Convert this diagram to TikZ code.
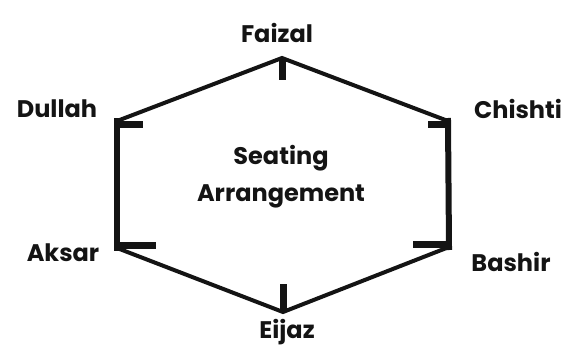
\documentclass[tikz,border=0pt]{standalone}
\usepackage{fontspec}
\setmainfont{Poppins}
\usepackage{tikz}
\usetikzlibrary{positioning,calc}
\definecolor{inkblack}{RGB}{20,20,20}
\tikzset{
  seatname/.style={font=\fontsize{24}{37}\selectfont\bfseries,text=inkblack,inner sep=0pt},
  sideline/.style={draw=inkblack,line width=6pt,line cap=rect},
  slantline/.style={draw=inkblack,line width=4pt,line cap=round},
  seatmark/.style={draw=inkblack,line width=7pt}
}
\begin{document}
\begin{tikzpicture}[x=1pt,y=-1pt]
  \useasboundingbox (0,0) rectangle (570,361);
  % corners of the table
  \coordinate (f) at (282,58);
  \coordinate (c) at (448,121);
  \coordinate (b) at (449,247);
  \coordinate (e) at (283,312);
  \coordinate (a) at (117,248);
  \coordinate (d) at (117,121);
  % names
  \node[seatname] (faizal) at (277,33) {Faizal};
  \node[seatname] (chishti) at (518,109) {Chishti};
  \node[seatname] (bashir) at (511,262) {Bashir};
  \node[seatname] (eijaz) at (287,332) {Eijaz};
  \node[seatname] (aksar) at (63,253) {Aksar};
  \node[seatname] (dullah) at (57,109) {Dullah};
  \node[seatname,align=center] (title) at (281,177) {Seating\\Arrangement};
  % table
  \draw[slantline] (d) -- (f) -- (c);
  \draw[slantline] (a) -- (e) -- (b);
  \draw[sideline] (d) -- (a);
  \draw[sideline] (c) -- (b);
  % seat marks
  \draw[seatmark] (f) -- ++(0,22);
  \draw[seatmark] (e) -- ++(0,-28);
  \draw[seatmark] ($(d)+(0,3)$) -- ++(26,0);
  \draw[seatmark] ($(c)+(0,3)$) -- ++(-20,0);
  \draw[seatmark] ($(a)+(0,-3)$) -- ++(39,0);
  \draw[seatmark] ($(b)+(0,-3)$) -- ++(-36,0);
\end{tikzpicture}
\end{document}
